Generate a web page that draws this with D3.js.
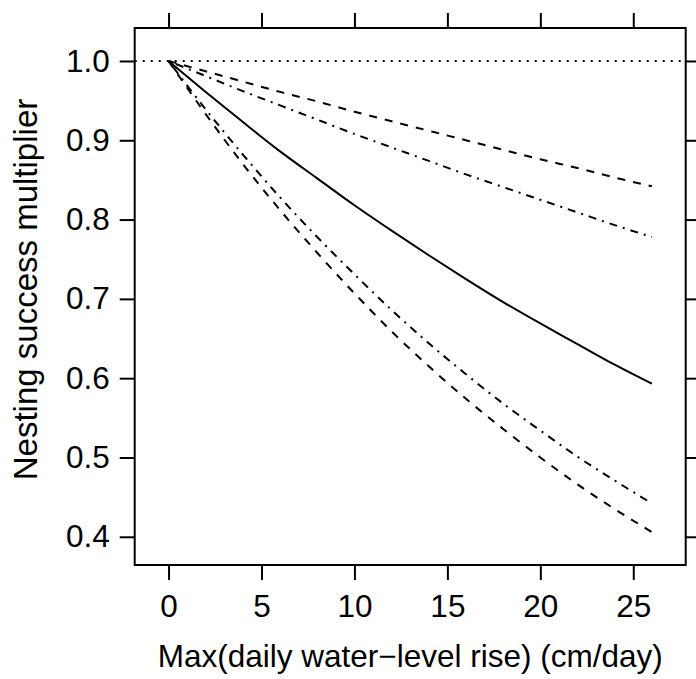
<!DOCTYPE html>
<html>
<head>
<meta charset="utf-8">
<script src="https://cdn.jsdelivr.net/npm/d3@7"></script>
<style>
  html, body { margin: 0; padding: 0; background: #fff; }
  svg { display: block; }
  text { font-family: "Liberation Sans", Arial, Helvetica, sans-serif; fill: #000; }
</style>
</head>
<body>
<svg id="chart" width="696" height="679"></svg>
<script>
// Water-level rise (cm/day) at which each curve is evaluated
const rise = [0, 2, 4, 6, 8, 10, 12, 14, 16, 18, 20, 22, 24, 26];

// Fitted multiplier and its two pairs of bounds
const fitted   = [1, 0.961, 0.923, 0.886, 0.852, 0.818, 0.786, 0.755, 0.725, 0.696, 0.669, 0.643, 0.617, 0.593];
const upperA   = [1, 0.987, 0.974, 0.961, 0.949, 0.936, 0.924, 0.912, 0.900, 0.888, 0.876, 0.865, 0.853, 0.842];
const upperB   = [1, 0.981, 0.962, 0.944, 0.926, 0.908, 0.891, 0.874, 0.857, 0.841, 0.825, 0.809, 0.793, 0.778];
const lowerB   = [1, 0.939, 0.882, 0.828, 0.778, 0.731, 0.686, 0.644, 0.605, 0.568, 0.534, 0.501, 0.471, 0.442];
const lowerA   = [1, 0.933, 0.870, 0.812, 0.758, 0.707, 0.659, 0.615, 0.574, 0.536, 0.500, 0.466, 0.435, 0.406];

const xTicks = [0, 5, 10, 15, 20, 25];
const yTicks = [0.4, 0.5, 0.6, 0.7, 0.8, 0.9, 1.0];
const reference = 1.0;

const svg = d3.select("#chart");
const frame = { left: 134.7, right: 685.7, top: 28, bottom: 565 };

// Padded domains (7% on each side of the data range)
const xExt = d3.extent(rise);
const xPad = 0.07 * (xExt[1] - xExt[0]);
const allY = fitted.concat(upperA, upperB, lowerB, lowerA);
const yExt = [d3.min(allY), d3.max(allY)];
const yPad = 0.07 * (yExt[1] - yExt[0]);

const x = d3.scaleLinear().domain([xExt[0] - xPad, xExt[1] + xPad]).range([frame.left, frame.right]);
const y = d3.scaleLinear().domain([yExt[0] - yPad, yExt[1] + yPad]).range([frame.bottom, frame.top]);

const tickLen = 15;
const lw = 2;
const fontSize = "31.5px";

// Axes: labelled on bottom/left, bare ticks on top/right
function styleAxis(g) {
  g.select(".domain").remove();
  g.selectAll(".tick line").attr("stroke", "#000").attr("stroke-width", lw);
  g.selectAll(".tick text").style("font-size", fontSize).attr("fill", "#000");
}

svg.append("g")
  .attr("transform", `translate(0,${frame.bottom})`)
  .call(d3.axisBottom(x).tickValues(xTicks).tickSizeOuter(0).tickSize(tickLen).tickPadding(15).tickFormat(d3.format("d")))
  .call(styleAxis);

svg.append("g")
  .attr("transform", `translate(0,${frame.top})`)
  .call(d3.axisTop(x).tickValues(xTicks).tickSizeOuter(0).tickSize(tickLen).tickFormat(""))
  .call(styleAxis);

svg.append("g")
  .attr("transform", `translate(${frame.left},0)`)
  .call(d3.axisLeft(y).tickValues(yTicks).tickSizeOuter(0).tickSize(tickLen).tickPadding(10).tickFormat(d3.format(".1f")))
  .call(styleAxis);

svg.append("g")
  .attr("transform", `translate(${frame.right},0)`)
  .call(d3.axisRight(y).tickValues(yTicks).tickSizeOuter(0).tickSize(tickLen).tickFormat(""))
  .call(styleAxis);

// Panel clip
svg.append("clipPath").attr("id", "panel")
  .append("rect")
  .attr("x", frame.left).attr("y", frame.top)
  .attr("width", frame.right - frame.left).attr("height", frame.bottom - frame.top);

const plot = svg.append("g").attr("clip-path", "url(#panel)");

// Reference line at multiplier = 1
plot.append("line")
  .attr("x1", frame.left).attr("x2", frame.right)
  .attr("y1", y(reference)).attr("y2", y(reference))
  .attr("stroke", "#000").attr("stroke-width", 2)
  .attr("stroke-dasharray", "2,6");

const line = d3.line()
  .x((d, i) => x(rise[i]))
  .y(d => y(d))
  .curve(d3.curveMonotoneX);

const series = [
  { values: fitted, dash: null },
  { values: upperA, dash: "8,8" },
  { values: lowerA, dash: "8,8" },
  { values: upperB, dash: "2,6,8,6" },
  { values: lowerB, dash: "2,6,8,6" }
];

plot.selectAll("path.curve")
  .data(series)
  .join("path")
  .attr("class", "curve")
  .attr("d", d => line(d.values))
  .attr("fill", "none")
  .attr("stroke", "#000")
  .attr("stroke-width", 2)
  .attr("stroke-dasharray", d => d.dash);

// Panel border
svg.append("rect")
  .attr("x", frame.left).attr("y", frame.top)
  .attr("width", frame.right - frame.left).attr("height", frame.bottom - frame.top)
  .attr("fill", "none").attr("stroke", "#000").attr("stroke-width", lw);

// Axis titles
svg.append("text")
  .attr("x", (frame.left + frame.right) / 2)
  .attr("y", 667)
  .attr("text-anchor", "middle")
  .style("font-size", fontSize)
  .text("Max(daily water\u2212level rise) (cm/day)");

svg.append("text")
  .attr("transform", `translate(37,${(frame.top + frame.bottom) / 2 - 7}) rotate(-90)`)
  .attr("text-anchor", "middle")
  .style("font-size", "33px")
  .text("Nesting success multiplier");
</script>
</body>
</html>
